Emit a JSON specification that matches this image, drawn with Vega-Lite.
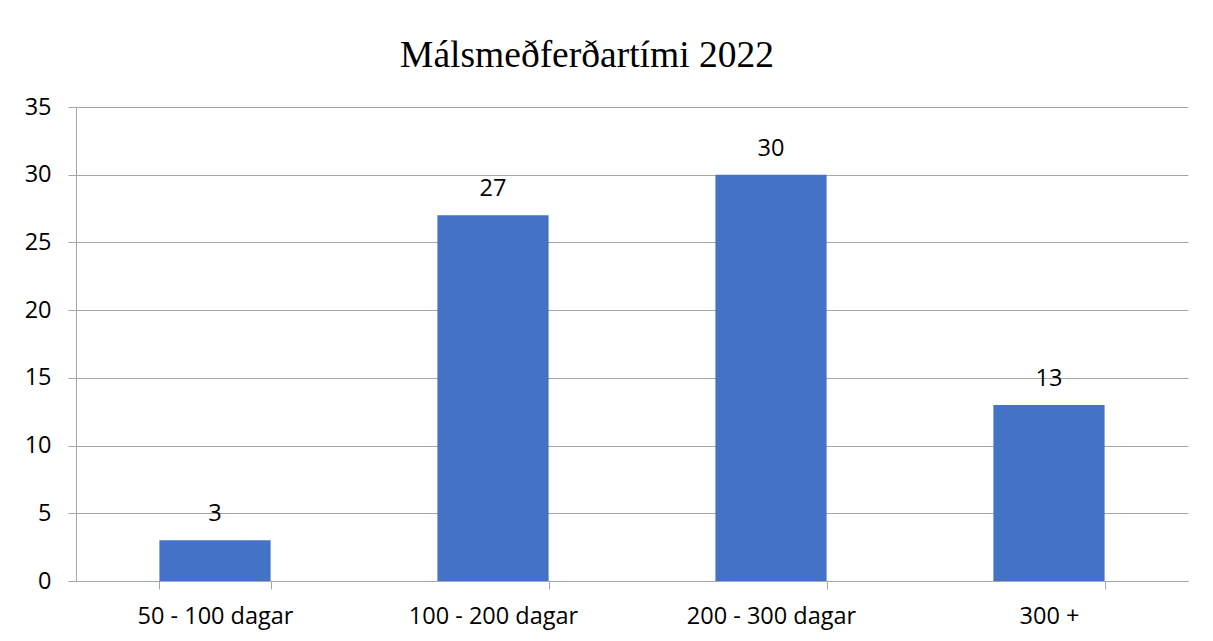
{
  "$schema": "https://vega.github.io/schema/vega-lite/v6.json",
  "width": 1112,
  "height": 474,
  "autosize": {"type": "none"},
  "padding": {"left": 76, "top": 107, "right": 25, "bottom": 60},
  "background": "white",
  "title": {
    "text": "Málsmeðferðartími 2022",
    "font": "Liberation Serif",
    "fontSize": 37.5,
    "fontWeight": "normal",
    "color": "#000000",
    "anchor": "middle",
    "dx": -45,
    "dy": -17
  },
  "data": {
    "values": [
      {"flokkur": "50 - 100 dagar", "fjoldi": 3},
      {"flokkur": "100 - 200 dagar", "fjoldi": 27},
      {"flokkur": "200 - 300 dagar", "fjoldi": 30},
      {"flokkur": "300 +", "fjoldi": 13}
    ]
  },
  "config": {
    "view": {"stroke": null},
    "axis": {
      "labelFont": "Open Sans",
      "labelFontSize": 23.5,
      "labelColor": "#000000",
      "domainColor": "#a6a6a6",
      "tickColor": "#a6a6a6",
      "gridColor": "#a6a6a6",
      "tickSize": 8,
      "title": null
    }
  },
  "encoding": {
    "x": {
      "field": "flokkur",
      "type": "nominal",
      "sort": null,
      "scale": {"paddingInner": 0.6, "paddingOuter": 0.3},
      "axis": {"labelAngle": 0, "tickBand": "extent", "labelPadding": 15, "grid": false}
    },
    "y": {
      "field": "fjoldi",
      "type": "quantitative",
      "scale": {"domain": [0, 35], "nice": false},
      "axis": {"values": [0, 5, 10, 15, 20, 25, 30, 35], "labelPadding": 17, "grid": true, "domain": true}
    }
  },
  "layer": [
    {"mark": {"type": "bar", "color": "#4472C4"}},
    {
      "mark": {"type": "text", "font": "Open Sans", "fontSize": 23.5, "color": "#000000", "baseline": "alphabetic", "dy": -19},
      "encoding": {"text": {"field": "fjoldi", "type": "quantitative"}}
    }
  ]
}
